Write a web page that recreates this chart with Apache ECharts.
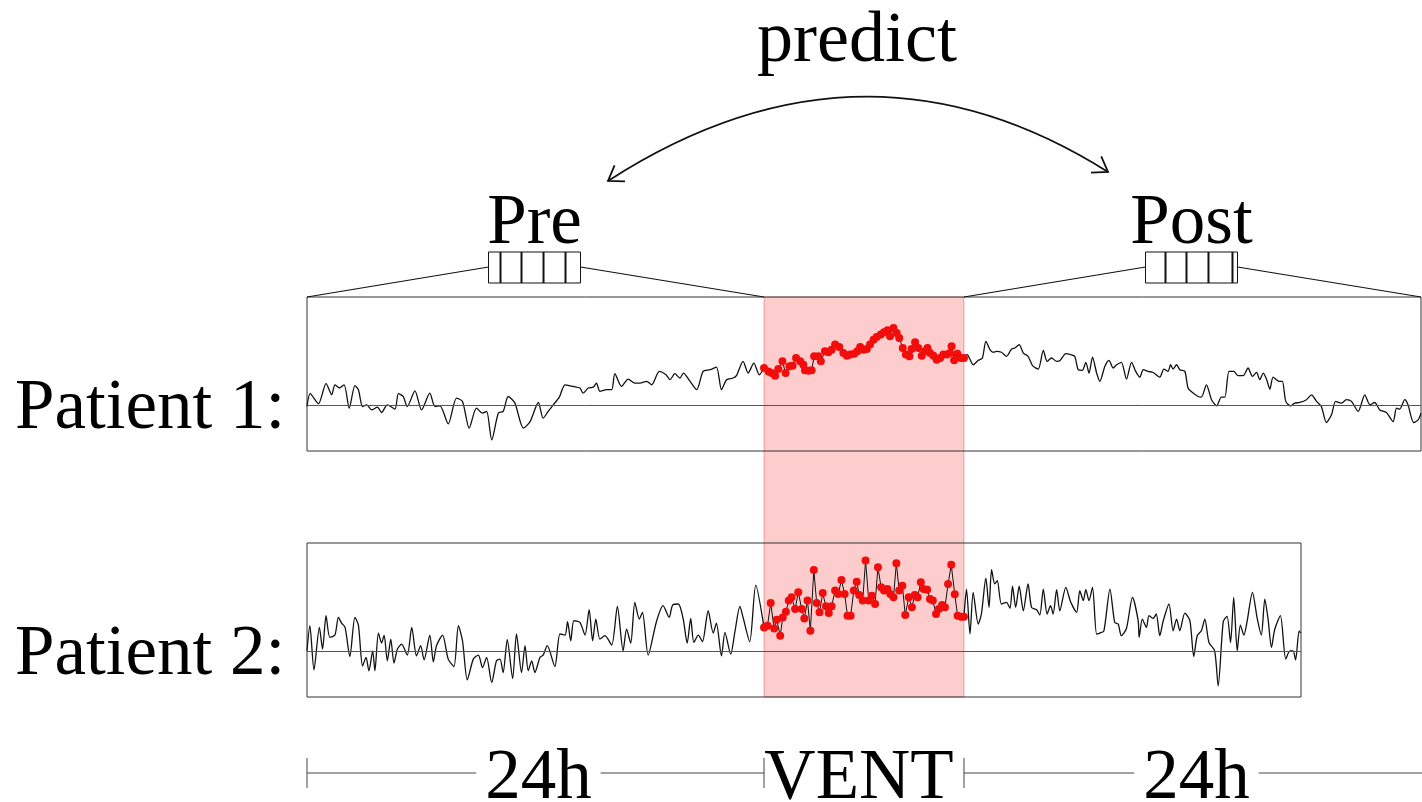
<!DOCTYPE html>
<html>
<head>
<meta charset="utf-8">
<title>Pre / VENT / Post</title>
<script src="https://cdn.jsdelivr.net/npm/echarts@6/dist/echarts.min.js"></script>
<style>
  html, body { margin: 0; padding: 0; background: #fff; }
  #main { width: 1422px; height: 802px; }
</style>
</head>
<body>
<div id="main"></div>
<script>
// time = minutes from start of ventilation, value = signal (0 = patient baseline)
const p1Pre = [[-1440,-1.1],[-1430,7.2],[-1404,0.7],[-1380,13.7],[-1362,6.5],[-1352,13.0],[-1338,10.9],[-1323,13.0],[-1307,-2.2],[-1289,12.4],[-1278,9.8],[-1265,-1.1],[-1252,0],[-1236,-3.3],[-1218,-1.5],[-1205,-5.0],[-1187,0],[-1163,-2.8],[-1152,7.2],[-1137,5.4],[-1124,-1.1],[-1100,9.1],[-1079,-3.3],[-1053,7.6],[-1037,-1.1],[-1021,-0.7],[-995,-12.4],[-969,4.3],[-950,2.2],[-929,-15.2],[-906,-2.2],[-887,-5.4],[-874,-4.3],[-858,-22.8],[-837,-5.4],[-822,-4.3],[-806,5.4],[-785,1.1],[-758,-15.2],[-737,-10.9],[-711,1.5],[-696,-8.7],[-680,-4.3],[-664,0],[-645,5.0],[-627,13.0],[-601,11.9],[-580,10.9],[-570,7.6],[-554,10.9],[-538,11.5],[-528,14.1],[-517,8.7],[-496,9.8],[-480,9.8],[-470,20.2],[-449,11.9],[-428,16.7],[-407,14.1],[-391,14.1],[-370,15.2],[-354,13.0],[-330,21.7],[-309,19.5],[-296,16.3],[-281,20.2],[-265,17.4],[-254,20.6],[-233,15.2],[-212,9.8],[-192,21.7],[-170,22.8],[-150,24.5],[-134,9.8],[-118,16.3],[-97,17.4],[-87,18.9],[-66,28.2],[-50,20.6],[-32,27.1],[-15,19.5],[0,23.9]];

const p1Vent = [[0,23.9],[14,21.7],[24,20.6],[35,18.9],[45,23.2],[58,28.2],[68,20.6],[80,25.0],[90,25.4],[101,30.4],[114,28.2],[124,26.0],[129,22.4],[140,22.1],[150,22.4],[158,31.5],[171,31.5],[179,28.2],[192,34.7],[203,34.1],[213,35.8],[224,39.1],[237,37.5],[250,33.6],[261,31.9],[271,32.6],[284,33.2],[294,34.7],[303,37.5],[313,35.8],[324,36.2],[334,39.1],[345,42.3],[355,44.1],[368,45.6],[378,47.1],[389,48.4],[397,44.5],[408,49.9],[418,46.7],[426,43.4],[437,36.9],[447,32.6],[458,31.5],[465,36.2],[476,40.6],[486,36.9],[497,31.9],[507,34.7],[515,36.9],[523,33.6],[534,31.9],[544,29.3],[555,30.4],[565,32.6],[576,32.6],[586,33.6],[591,38.0],[599,28.9],[609,33.2],[620,30.4],[630,30.4]];

const p1Post = [[630,30.4],[640,32.6],[659,26.0],[675,28.9],[688,30.4],[699,41.2],[712,35.8],[722,34.1],[733,34.7],[748,34.1],[764,31.5],[780,36.2],[790,36.9],[804,39.1],[817,33.6],[832,31.5],[846,25.4],[864,23.2],[880,35.4],[892,28.2],[906,30.4],[922,28.2],[932,28.6],[951,33.2],[966,32.6],[979,31.5],[990,22.8],[1003,22.4],[1014,27.6],[1024,20.6],[1035,31.0],[1048,20.6],[1058,15.2],[1074,25.0],[1087,28.9],[1100,23.9],[1111,26.0],[1126,27.6],[1142,16.7],[1158,27.6],[1171,21.7],[1184,18.0],[1195,22.8],[1210,21.7],[1226,21.0],[1247,18.0],[1260,23.2],[1273,21.7],[1281,26.0],[1289,23.2],[1300,26.0],[1310,22.8],[1326,21.7],[1336,10.9],[1352,7.6],[1368,5.4],[1378,5.0],[1394,13.0],[1410,3.3],[1426,-0.7],[1441,5.0],[1452,5.0],[1465,21.7],[1480,21.7],[1494,18.9],[1510,18.9],[1525,23.9],[1539,18.4],[1552,21.0],[1562,16.3],[1573,20.6],[1583,16.7],[1594,10.2],[1604,18.0],[1623,15.2],[1633,15.2],[1644,2.2],[1659,-0.7],[1672,1.1],[1688,1.5],[1709,3.3],[1725,6.5],[1741,2.2],[1756,-1.1],[1772,-11.5],[1788,-6.5],[1801,2.2],[1819,1.1],[1835,3.3],[1851,2.2],[1872,-4.3],[1893,6.5],[1909,0],[1924,1.5],[1940,-3.3],[1961,-5.0],[1982,-10.9],[1993,-2.2],[2003,-2.8],[2019,3.3],[2029,0],[2047,-11.5],[2061,-9.8],[2070,-5.4]];

const p2Pre = [[-1440,0],[-1431,16.3],[-1418,-12.4],[-1401,15.2],[-1391,1.1],[-1380,22.8],[-1368,8.7],[-1352,10.2],[-1341,21.7],[-1331,18.0],[-1320,15.2],[-1305,-3.7],[-1289,21.7],[-1278,16.7],[-1265,-9.8],[-1254,-4.3],[-1245,-13.0],[-1233,0],[-1226,-13.0],[-1215,11.5],[-1205,5.0],[-1197,10.2],[-1187,-6.5],[-1176,7.6],[-1166,-8.0],[-1155,1.1],[-1142,4.3],[-1124,-2.8],[-1110,15.2],[-1095,-3.3],[-1082,3.3],[-1071,-5.9],[-1053,10.2],[-1042,-7.2],[-1032,3.3],[-1013,10.2],[-995,-5.4],[-977,-10.2],[-963,16.3],[-950,6.5],[-935,-18.9],[-916,-5.4],[-900,-2.8],[-887,-10.9],[-874,-4.3],[-858,-20.6],[-843,-6.5],[-832,-5.4],[-822,-14.1],[-809,7.2],[-792,-18.0],[-780,10.9],[-764,-14.1],[-753,3.3],[-743,-13.0],[-732,-6.5],[-722,-14.1],[-706,-4.3],[-696,-2.8],[-683,3.3],[-659,-10.2],[-643,10.9],[-627,10.2],[-619,18.9],[-609,6.5],[-599,19.5],[-580,18.4],[-564,10.2],[-551,26.7],[-540,6.5],[-530,20.6],[-517,7.6],[-501,9.8],[-480,3.7],[-462,28.9],[-444,0],[-433,14.1],[-420,5.0],[-407,31.5],[-393,20.6],[-383,25.0],[-365,-2.8],[-339,18.9],[-318,29.3],[-299,21.7],[-288,29.7],[-270,30.4],[-255,21.0],[-242,5.0],[-231,21.0],[-221,5.4],[-207,10.2],[-194,5.9],[-176,26.0],[-160,11.5],[-150,18.0],[-134,-3.3],[-123,11.9],[-105,-2.2],[-92,11.9],[-76,28.9],[-66,21.7],[-45,5.9],[-26,42.7],[0,15.2]];

const p2Vent = [[0,15.2],[11,16.3],[21,31.0],[32,14.5],[40,20.2],[51,9.8],[59,21.7],[69,25.4],[78,32.6],[87,34.7],[98,27.1],[108,38.0],[119,27.1],[127,21.0],[137,32.6],[146,13.0],[157,52.5],[166,31.0],[175,25.0],[185,37.5],[195,28.9],[204,24.5],[213,28.9],[224,39.1],[234,36.9],[244,46.0],[254,36.9],[263,22.8],[273,22.8],[283,39.1],[292,44.9],[300,36.2],[311,32.6],[320,58.6],[330,32.6],[340,35.8],[350,30.4],[359,54.3],[369,41.2],[378,39.1],[389,40.1],[398,36.9],[408,34.7],[417,56.9],[426,39.1],[436,42.3],[445,23.2],[456,34.7],[466,28.2],[475,36.2],[484,34.7],[494,44.5],[503,40.1],[514,39.7],[523,33.6],[532,32.6],[542,23.9],[551,27.1],[561,29.7],[570,28.2],[580,43.4],[590,55.8],[601,36.7],[610,22.8],[621,22.1],[630,22.1]];

const p2Post = [[630,22.1],[638,40.1],[649,10.9],[659,38.0],[675,17.4],[685,23.9],[699,47.1],[709,28.2],[717,52.7],[727,43.4],[735,45.6],[748,30.4],[764,31.5],[775,27.6],[783,41.9],[793,28.2],[804,41.9],[817,26.0],[832,43.4],[843,28.2],[859,26.7],[869,23.2],[880,40.1],[892,23.9],[903,29.3],[911,23.9],[922,39.7],[932,26.0],[951,41.2],[966,31.9],[985,25.0],[995,39.1],[1006,32.6],[1014,39.7],[1024,32.6],[1035,41.2],[1048,10.9],[1058,11.5],[1071,13.0],[1090,40.1],[1105,18.4],[1116,17.4],[1126,9.8],[1142,14.5],[1161,34.7],[1179,19.5],[1182,8.7],[1192,20.6],[1205,15.2],[1213,22.8],[1226,21.0],[1236,23.9],[1247,9.8],[1258,19.5],[1276,30.4],[1289,13.0],[1300,20.6],[1310,13.0],[1326,24.5],[1342,19.5],[1354,-3.7],[1365,9.8],[1378,13.0],[1389,20.6],[1402,5.4],[1420,0],[1431,-22.8],[1447,18.9],[1459,22.4],[1470,5.4],[1480,34.7],[1491,0],[1501,16.7],[1512,10.2],[1522,18.9],[1539,38.0],[1554,21.0],[1567,10.2],[1578,33.6],[1588,21.0],[1599,2.2],[1609,13.7],[1627,22.8],[1644,-5.4],[1657,0],[1667,0],[1675,-5.9],[1686,13.0],[1691,11.5]];

// windows (minutes) and value range
const preWindow = [-1440, 0];
const ventWindow = [0, 630];
const postWindow = [630, 2070];
const p2End = 1692;
const yRange = [-30, 70];

const serif = "'Liberation Serif', 'Times New Roman', serif";
const FS = 71;

const chart = echarts.init(document.getElementById('main'));

function hiddenX(idx, max) {
  return { type: 'value', gridIndex: idx, min: preWindow[0], max: max, show: false };
}
function hiddenY(idx, min, max) {
  return { type: 'value', gridIndex: idx, min: min, max: max, show: false };
}
function blackLine(data, i) {
  return {
    type: 'line', data: data, xAxisIndex: i, yAxisIndex: i,
    showSymbol: false, z: 3, silent: true, smooth: 0.25,
    lineStyle: { color: '#111', width: 1.3 }
  };
}
function ventDots(data, i) {
  return {
    type: 'line', data: data, xAxisIndex: i, yAxisIndex: i,
    symbol: 'circle', symbolSize: 8, showSymbol: true, showAllSymbol: true, z: 5, silent: true,
    lineStyle: { color: '#111', width: 1 },
    itemStyle: { color: '#f20d0d', borderWidth: 0 }
  };
}
function baseline() {
  return {
    silent: true, symbol: 'none', label: { show: false },
    lineStyle: { color: '#555', type: 'solid', width: 1 },
    data: [{ yAxis: 0 }]
  };
}

const p1 = blackLine(p1Pre, 0);
p1.markLine = baseline();
const p2 = blackLine(p2Pre, 1);
p2.markLine = baseline();

chart.setOption({
  animation: false,
  grid: [
    { left: 307, top: 297, width: 1114, height: 154, show: true, borderColor: '#333', borderWidth: 1, z: 2 },
    { left: 307, top: 543, width: 994, height: 154, show: true, borderColor: '#333', borderWidth: 1, z: 2 },
    { left: 307, top: 297, width: 1114, height: 400, show: false }
  ],
  xAxis: [hiddenX(0, postWindow[1]), hiddenX(1, p2End), hiddenX(2, postWindow[1])],
  yAxis: [hiddenY(0, yRange[0], yRange[1]), hiddenY(1, yRange[0], yRange[1]), hiddenY(2, 0, 1)],
  series: [
    {
      type: 'line', data: [], xAxisIndex: 2, yAxisIndex: 2, z: 4, silent: true,
      markArea: {
        silent: true,
        itemStyle: { color: 'rgba(245,40,40,0.23)', borderColor: 'rgba(200,30,30,0.35)', borderWidth: 1 },
        data: [[{ xAxis: ventWindow[0], yAxis: 0 }, { xAxis: ventWindow[1], yAxis: 1 }]]
      }
    },
    p1, ventDots(p1Vent, 0), blackLine(p1Post, 0),
    p2, ventDots(p2Vent, 1), blackLine(p2Post, 1)
  ]
});

// ---- annotations around the panels ----
const xp = t => chart.convertToPixel({ xAxisIndex: 0 }, t);
const yTop = chart.convertToPixel({ yAxisIndex: 0 }, yRange[1]);
const yBase1 = chart.convertToPixel({ yAxisIndex: 0 }, 0);
const yBase2 = chart.convertToPixel({ yAxisIndex: 1 }, 0);

const measure = document.createElement('canvas').getContext('2d');
measure.font = FS + 'px ' + serif;
const textW = s => measure.measureText(s).width;

const ink = '#111';
const els = [];

function label(text, x, y, align, size) {
  els.push({
    type: 'text', x: x, y: y, z: 10,
    style: { text: text, fill: '#000', font: (size || FS) + 'px ' + serif, align: align || 'center', verticalAlign: 'middle' }
  });
}
function seg(x1, y1, x2, y2, w, c) {
  els.push({ type: 'line', z: 10, shape: { x1: x1, y1: y1, x2: x2, y2: y2 }, style: { stroke: c || ink, lineWidth: w || 1 } });
}

// Pre / Post windows with their zoom lines
function windowBox(name, win, dividers) {
  const cx = xp((win[0] + win[1]) / 2) - 1;
  const w = 92, h = 31, top = yTop - 45, left = cx - w / 2;
  seg(left, yTop - 30, xp(win[0]), yTop, 1.2);
  seg(left + w, yTop - 30, xp(win[1]), yTop, 1.2);
  els.push({ type: 'rect', z: 10, shape: { x: left, y: top, width: w, height: h }, style: { fill: '#fff', stroke: ink, lineWidth: 1 } });
  dividers.forEach(d => seg(left + d, top, left + d, top + h, 2));
  label(name, cx, top - 28);
}
windowBox('Pre', preWindow, [12, 33, 55, 77]);
windowBox('Post', [postWindow[0], postWindow[0] + 1440], [20, 41, 63, 87]);

// predict arrow
const A = [608, 181], B = [1108, 172], C = [862, 17];
els.push({
  type: 'bezierCurve', z: 10,
  shape: { x1: A[0], y1: A[1], x2: B[0], y2: B[1], cpx1: C[0], cpy1: C[1] },
  style: { stroke: ink, lineWidth: 1.8, fill: null }
});
function head(tip, from) {
  const dx = tip[0] - from[0], dy = tip[1] - from[1];
  const L = Math.hypot(dx, dy), ux = dx / L, uy = dy / L;
  const len = 17, a = 0.6;
  const pts = [-a, a].map(s => [
    tip[0] - len * (ux * Math.cos(s) - uy * Math.sin(s)),
    tip[1] - len * (ux * Math.sin(s) + uy * Math.cos(s))
  ]);
  els.push({
    type: 'polyline', z: 10,
    shape: { points: [pts[0], tip, pts[1]] },
    style: { stroke: ink, lineWidth: 1.8, fill: null }
  });
}
head(A, C);
head(B, C);
label('predict', 857, 42, 'center', 72);

// patient labels
label('Patient 1:', 15, yBase1 + 5, 'left');
label('Patient 2:', 15, yBase2 + 5, 'left');

// time line along the bottom
const yT = 773, yTxt = yT + 6;
const tTicks = [preWindow[0], ventWindow[0], ventWindow[1]];
tTicks.forEach(t => seg(xp(t), yT - 15, xp(t), yT + 15, 1, '#444'));
const gap = 9;
const c1 = xp(-720) + 3, w1 = textW('24h');
seg(xp(preWindow[0]), yT, c1 - w1 / 2 - gap, yT, 1, '#444');
seg(c1 + w1 / 2 + gap, yT, xp(0), yT, 1, '#444');
label('24h', c1, yTxt);
label('VENT', (xp(0) + xp(630)) / 2 - 5, yTxt);
const c3 = xp(630 + 720) + 4;
seg(xp(630), yT, c3 - w1 / 2 - gap, yT, 1, '#444');
seg(c3 + w1 / 2 + gap, yT, 1422, yT, 1, '#444');
label('24h', c3, yTxt);

chart.setOption({ graphic: els });
</script>
</body>
</html>
